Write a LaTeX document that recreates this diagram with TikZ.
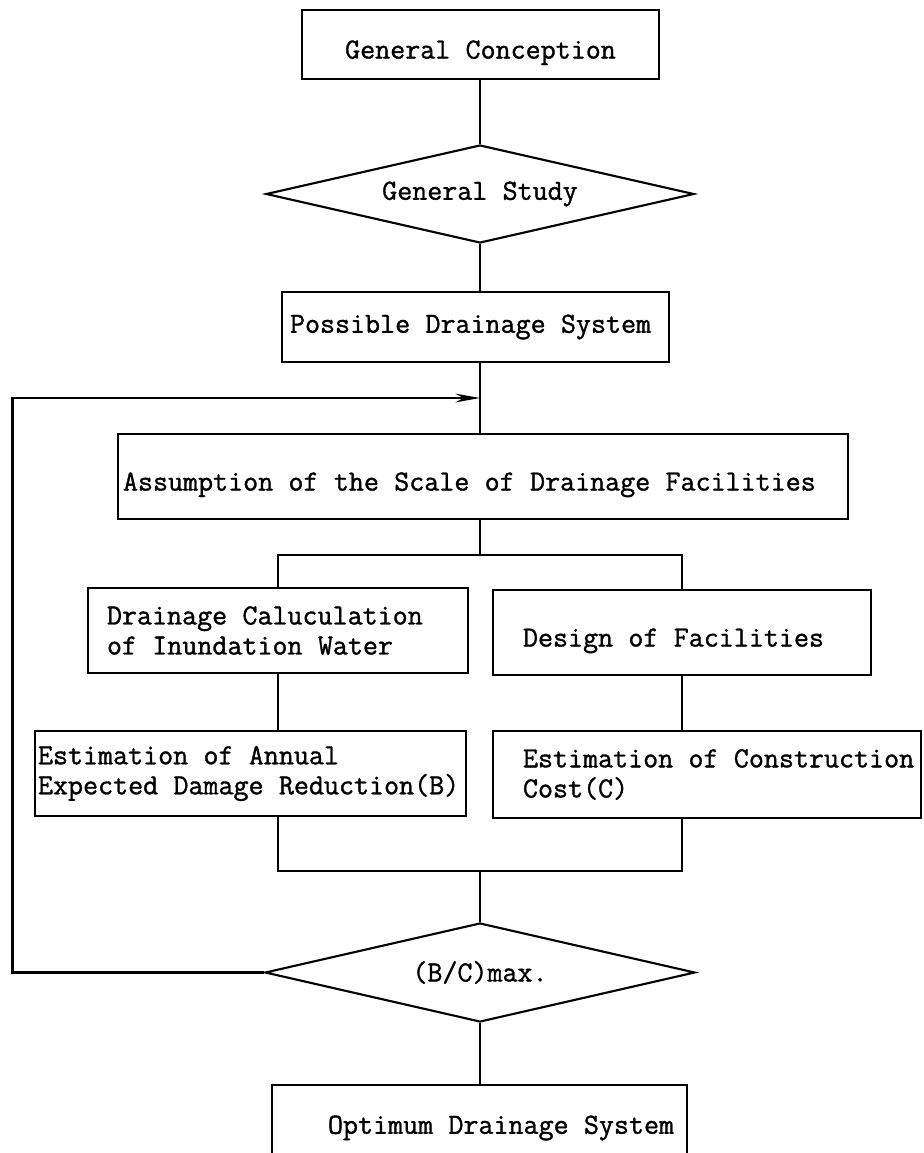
\documentclass[tikz,border=0pt]{standalone}
\usepackage{fontspec}
\setmonofont{Latin Modern Mono}[FakeBold=1.2]
\usepackage{tikz}
\usetikzlibrary{shapes.geometric,arrows.meta}

\begin{document}
\begin{tikzpicture}
            [very thick,
            every node/.style = {font=\ttfamily\fontsize{16.6}{17.1}\selectfont,
                        execute at begin node={\spaceskip=0.525em\relax}},
            box/.style = {draw, rectangle, inner sep=0pt, align=left,
                        minimum height=1.7cm},
            oneline/.style = {text height=16pt, text depth=0pt},
            test/.style = {draw, diamond, inner sep=0pt, aspect=4.4}]
            \useasboundingbox (0,0) rectangle (18.46,-23.06);
            \clip (0,0) rectangle (18.46,-23.06);
            % Cajas
            \node[box, oneline, minimum width=7.14cm, minimum height=1.38cm] (gc) at (9.61,-0.89) {General Conception};
            \node[test, minimum width=8.56cm, minimum height=1.96cm] (gs) at (9.6,-3.88) {General Study};
            \node[box, minimum width=7.74cm, minimum height=1.4cm, text width=7.42cm] (pds) at (9.51,-6.54) {Possible Drainage System};
            \node[box, oneline, minimum width=14.6cm, text width=14.4cm] (asm) at (9.66,-9.53) {Assumption of the Scale of Drainage Facilities};
            \node[box, minimum width=7.6cm, text width=6.84cm] (dcalc) at (5.56,-12.61) {Drainage Caluculation\\of Inundation Water};
            \node[box, oneline, minimum width=7.56cm, text width=6.36cm] (dfac) at (13.64,-12.65) {Design of Facilities};
            \node[box, minimum width=8.62cm, text width=8.5cm] (estB) at (5.01,-15.47) {Estimation of Annual\\\mbox{Expected Damage Reduction(B)}};
            \node[box, minimum width=8.56cm, minimum height=1.74cm, text width=7.36cm] (estC) at (14.14,-15.49) {\mbox{Estimation of Construction}\\Cost(C)};
            \node[test, minimum width=8.6cm, minimum height=1.98cm] (bc) at (9.6,-19.45) {(B/C)max.};
            \node[box, minimum width=8.3cm, minimum height=1.72cm, text width=6.06cm] (opt) at (9.59,-22.56) {\mbox{Optimum Drainage System}};

            \coordinate (back) at (9.6,-7.96);
            \coordinate (corner) at (0.25,-7.96);
            \coordinate (split) at (9.6,-11.1);
            \coordinate (merge) at (9.6,-17.42);

            % Lineas
            \draw (gc.south -| gs) -- (gs.north);
            \draw (gs.south) -- (pds.north -| gs);
            \draw (pds.south -| gs) -- (asm.north -| gs);
            \draw (asm.south -| gs) -- (split);
            \draw (dcalc.north) |- (split) -| (dfac.north);
            \draw (dcalc.south) -- (estB.north -| dcalc);
            \draw (dfac.south) -- (estC.north -| dfac);
            \draw (estB.south -| dcalc) |- (merge) -| (estC.south -| dfac);
            \draw (merge) -- (bc.north);
            \draw (bc.south) -- (opt.north -| bc);
            \draw [-{Stealth[length=14pt,width=5pt]}](bc.west) -| (corner) -- (back);
        \end{tikzpicture}
\end{document}
